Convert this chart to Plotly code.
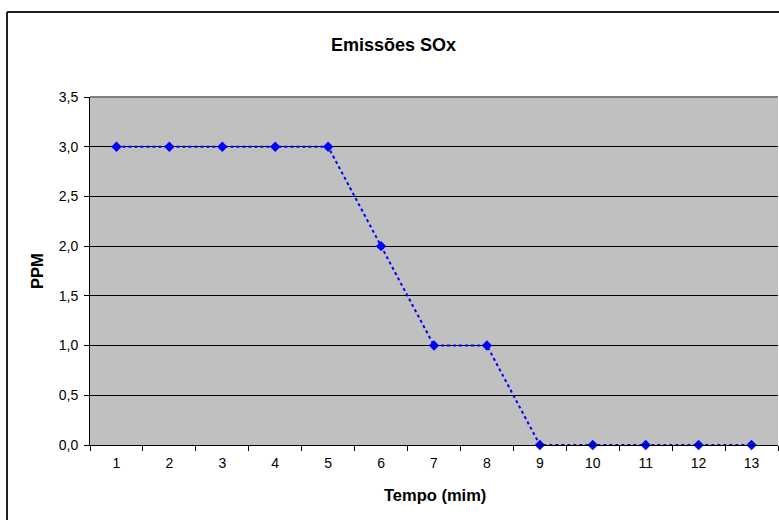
import plotly.graph_objects as go

categories = ["1", "2", "3", "4", "5", "6", "7", "8", "9", "10", "11", "12", "13"]
ppm = [3, 3, 3, 3, 3, 2, 1, 1, 0, 0, 0, 0, 0]
y_ticks = [0, 0.5, 1.0, 1.5, 2.0, 2.5, 3.0, 3.5]

W, H = 779, 520
ML, MR, MT, MB = 90, 1, 97, 75
PW, PH = W - ML - MR, H - MT - MB

def px_x(p):
    return (p - ML) / PW

def px_y(p):
    return 1 - (p - MT) / PH

font = "Liberation Sans, Arial, sans-serif"

fig = go.Figure()
fig.add_trace(go.Scatter(
    x=categories, y=ppm, mode="lines+markers",
    line=dict(color="#0000FF", width=2, dash="dot"),
    marker=dict(symbol="diamond", size=8, color="#0000FF"),
    showlegend=False, cliponaxis=False,
))

fig.update_layout(
    width=W, height=H,
    margin=dict(l=ML, r=MR, t=MT, b=MB),
    paper_bgcolor="white", plot_bgcolor="#C0C0C0",
    separators=",.",
    font=dict(family=font, size=14, color="black"),
    xaxis=dict(type="category", tickson="boundaries", ticks="outside", ticklen=5,
               tickcolor="black", showline=True, linecolor="black", linewidth=1,
               showgrid=False, zeroline=False, tickfont=dict(size=14),
               ticklabelstandoff=5, range=[-0.5, 12.5]),
    yaxis=dict(range=[0, 3.5], tickvals=y_ticks, tickformat=".1f", ticks="outside",
               ticklen=5, tickcolor="black", showline=True, linecolor="black",
               linewidth=1, showgrid=True, gridcolor="black", gridwidth=1,
               zeroline=False, tickfont=dict(size=14), ticklabelstandoff=3),
    shapes=[
        dict(type="line", xref="paper", yref="paper", x0=0, x1=1, y0=1, y1=1,
             line=dict(color="#808080", width=2), layer="above"),
        dict(type="line", xref="paper", yref="paper", x0=px_x(7), x1=px_x(7),
             y0=px_y(12), y1=px_y(530), line=dict(color="#202020", width=2)),
        dict(type="line", xref="paper", yref="paper", x0=px_x(7), x1=px_x(790),
             y0=px_y(12), y1=px_y(12), line=dict(color="#202020", width=2)),
    ],
    annotations=[
        dict(text="<b>Emissões SOx</b>", xref="paper", yref="paper",
             x=px_x(393), y=px_y(45), showarrow=False, font=dict(size=18),
             xanchor="center", yanchor="middle"),
        dict(text="<b>Tempo (mim)</b>", xref="paper", yref="paper",
             x=px_x(435), y=px_y(495), showarrow=False, font=dict(size=16.5),
             xanchor="center", yanchor="middle"),
        dict(text="<b>PPM</b>", xref="paper", yref="paper",
             x=px_x(37), y=px_y(271), showarrow=False, font=dict(size=16.5),
             textangle=-90, xanchor="center", yanchor="middle"),
    ],
)

fig.write_html("out.html")
